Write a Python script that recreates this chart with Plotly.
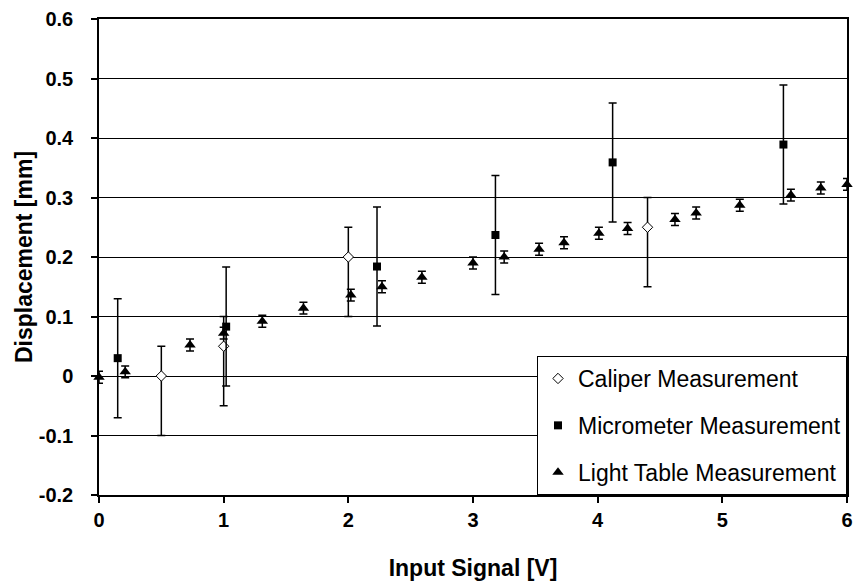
import plotly.graph_objects as go

# Caliper measurement (asymmetric error bars)
cal_x = [0.5, 1.0, 2.0, 4.4]
cal_y = [0.0, 0.05, 0.2, 0.25]
cal_err_plus = [0.05, 0.05, 0.05, 0.05]
cal_err_minus = [0.1, 0.1, 0.1, 0.1]

# Micrometer measurement
mic_x = [0.15, 1.02, 2.23, 3.18, 4.12, 5.49]
mic_y = [0.03, 0.083, 0.184, 0.237, 0.359, 0.389]
mic_err = [0.1, 0.1, 0.1, 0.1, 0.1, 0.1]

# Light table measurement
lt_x = [0.0, 0.21, 0.73, 1.0, 1.31, 1.64, 2.02, 2.27, 2.59, 3.0, 3.25,
        3.53, 3.73, 4.01, 4.24, 4.62, 4.79, 5.14, 5.55, 5.79, 6.0]
lt_y = [-0.002, 0.007, 0.052, 0.072, 0.092, 0.114, 0.136, 0.15, 0.166, 0.19, 0.2,
        0.213, 0.224, 0.24, 0.248, 0.263, 0.274, 0.287, 0.304, 0.316, 0.322]
lt_err = [0.01] * len(lt_x)

x_ticks = [0, 1, 2, 3, 4, 5, 6]
y_ticks = [-0.2, -0.1, 0, 0.1, 0.2, 0.3, 0.4, 0.5, 0.6]
y_tick_text = ["-0.2", "-0.1", "0", "0.1", "0.2", "0.3", "0.4", "0.5", "0.6"]

FONT = "Liberation Sans, Arial, sans-serif"

fig = go.Figure()
fig.add_trace(go.Scatter(
    x=cal_x, y=cal_y, mode="markers", name="Caliper Measurement",
    legendgroup="a",
    marker=dict(symbol="diamond", size=8, color="white",
                line=dict(color="black", width=1)),
    error_y=dict(type="data", symmetric=False, array=cal_err_plus,
                 arrayminus=cal_err_minus, color="black", thickness=1.5, width=4),
    cliponaxis=False,
))
fig.add_trace(go.Scatter(
    x=mic_x, y=mic_y, mode="markers", name="Micrometer Measurement",
    legendgroup="b",
    marker=dict(symbol="square", size=8, color="black"),
    error_y=dict(type="data", array=mic_err, color="black", thickness=1.5, width=4),
    cliponaxis=False,
))
fig.add_trace(go.Scatter(
    x=lt_x, y=lt_y, mode="markers", name="Light Table Measurement",
    legendgroup="c",
    marker=dict(symbol="triangle-up", size=10, color="black"),
    error_y=dict(type="data", array=lt_err, color="black", thickness=1.5, width=4),
    cliponaxis=False,
))

fig.update_layout(
    width=861, height=588,
    margin=dict(l=99, r=8, t=17, b=93),
    paper_bgcolor="white", plot_bgcolor="white",
    font=dict(family=FONT, color="black"),
    showlegend=True,
    legend=dict(
        x=1, xanchor="right", y=0, yanchor="bottom",
        bgcolor="white", bordercolor="black", borderwidth=1,
        font=dict(size=23, family=FONT, color="black"),
        tracegroupgap=14,
        itemwidth=30,
    ),
    xaxis=dict(
        range=[0, 6], tickvals=x_ticks, showgrid=False, zeroline=False,
        showline=True, linecolor="black", linewidth=1.5, mirror=True,
        ticks="outside", ticklen=6, tickcolor="black", tickwidth=1.5,
        tickfont=dict(size=20, family=FONT, color="black", weight="bold"),
        title=dict(text="<b>Input Signal [V]</b>", font=dict(size=23, family=FONT),
                   standoff=30),
    ),
    yaxis=dict(
        range=[-0.2, 0.6], tickvals=y_ticks, ticktext=y_tick_text,
        showgrid=True, gridcolor="black", gridwidth=1, zeroline=False,
        showline=True, linecolor="black", linewidth=1.5, mirror=True,
        ticks="outside", ticklen=6, tickcolor="black", tickwidth=1.5,
        ticklabelstandoff=14,
        tickfont=dict(size=20, family=FONT, color="black", weight="bold"),
        title=dict(text="<b>Displacement [mm]</b>", font=dict(size=23, family=FONT),
                   standoff=0),
    ),
)

fig.write_html("out.html")
